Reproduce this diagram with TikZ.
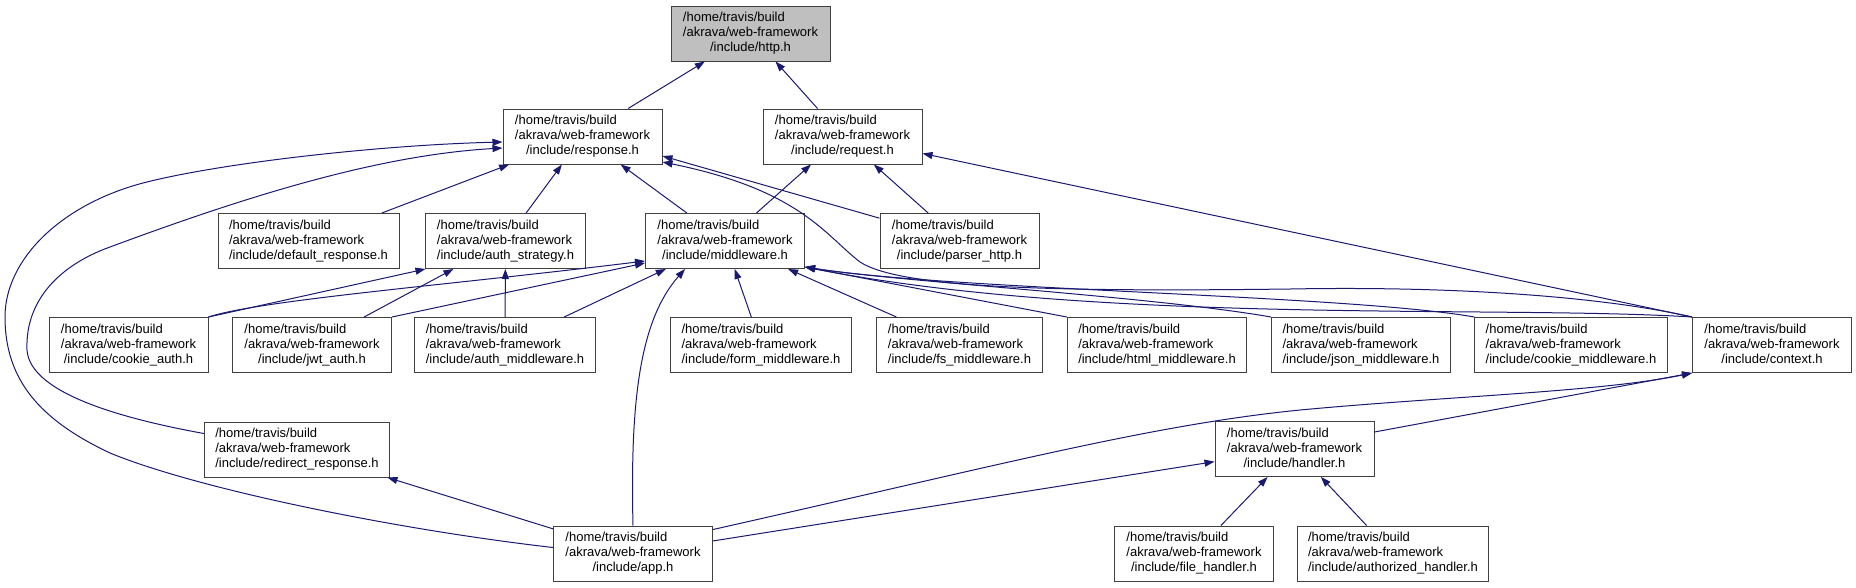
\documentclass[tikz,border=0pt]{standalone}
\usepackage{fontspec}
\setmainfont{Liberation Sans}
\usetikzlibrary{arrows.meta}
\definecolor{edgeblue}{HTML}{191970}
\definecolor{boxgray}{HTML}{404040}
\definecolor{rootfill}{HTML}{BFBFBF}
\newcommand{\incpath}[1]{\begin{tabular}{@{}l@{}}/home/travis/build\\/akrava/web-framework\\\multicolumn{1}{@{}c@{}}{/include/#1}\end{tabular}}
\tikzset{
  filebox/.style={draw=boxgray,fill=white,line width=1pt,minimum width=159pt,minimum height=55pt,inner xsep=11pt,inner ysep=0pt,font=\fontsize{13}{15}\selectfont},
  incline/.style={draw=edgeblue,line width=1pt}
}
\begin{document}
\begin{tikzpicture}[x=1pt,y=-1pt,>={Triangle[length=10pt,width=7pt]}]
\useasboundingbox (0,0) rectangle (1856,587);
\node[filebox,fill=rootfill] (http) at (750.5,33.5) {\incpath{http.h}};
\node[filebox] (response) at (582.5,136.5) {\incpath{response.h}};
\node[filebox] (request) at (842.5,136.5) {\incpath{request.h}};
\node[filebox] (defresp) at (308.5,241) {\incpath{default\_response.h}};
\node[filebox] (authstrat) at (505.5,241) {\incpath{auth\_strategy.h}};
\node[filebox] (middleware) at (725,241) {\incpath{middleware.h}};
\node[filebox] (parser) at (959.5,241) {\incpath{parser\_http.h}};
\node[filebox] (cookieauth) at (128.5,345) {\incpath{cookie\_auth.h}};
\node[filebox] (jwtauth) at (312,345) {\incpath{jwt\_auth.h}};
\node[filebox] (authmw) at (505,345) {\incpath{auth\_middleware.h}};
\node[filebox] (formmw) at (761,345) {\incpath{form\_middleware.h}};
\node[filebox] (fsmw) at (959.5,345) {\incpath{fs\_middleware.h}};
\node[filebox] (htmlmw) at (1157,345) {\incpath{html\_middleware.h}};
\node[filebox] (jsonmw) at (1361,345) {\incpath{json\_middleware.h}};
\node[filebox] (cookiemw) at (1571,345) {\incpath{cookie\_middleware.h}};
\node[filebox] (context) at (1772,345) {\incpath{context.h}};
\node[filebox] (redirect) at (297,449.5) {\incpath{redirect\_response.h}};
\node[filebox] (handler) at (1294.5,449) {\incpath{handler.h}};
\node[filebox] (app) at (633,553.5) {\incpath{app.h}};
\node[filebox] (filehandler) at (1194,553.5) {\incpath{file\_handler.h}};
\node[filebox] (authhandler) at (1393,553.5) {\incpath{authorized\_handler.h}};
\draw[->,incline] (response) -- (http);
\draw[->,incline] (request) -- (http);
\draw[->,incline] (defresp) -- (response);
\draw[->,incline] (authstrat) -- (response);
\draw[->,incline] (middleware) -- (response);
\draw[->,incline] (parser) -- ([yshift=-19.5pt]response.east);
\draw[->,incline] (middleware) -- (request);
\draw[->,incline] (parser) -- (request);
\draw[->,incline] (context.north west) -- (request);
\draw[->,incline] (cookieauth.north east) -- (authstrat.south west);
\draw[->,incline] (jwtauth) -- (authstrat);
\draw[->,incline] (authmw) -- (authstrat);
\draw[->,incline] (cookieauth.north east) .. controls (260,300) and (450,285) .. ([yshift=-20pt]middleware.west);
\draw[->,incline] (jwtauth.north east) -- ([yshift=-22pt]middleware.west);
\draw[->,incline] (authmw) -- (middleware);
\draw[->,incline] (formmw) -- (middleware);
\draw[->,incline] (fsmw) -- (middleware);
\draw[->,incline] (htmlmw.north west) -- ([yshift=2pt]middleware.south east);
\draw[->,incline] (jsonmw.north west) .. controls (1150,296) and (900,282) .. ([yshift=2pt]middleware.south east);
\draw[->,incline] (cookiemw.north west) .. controls (1350,295) and (950,290) .. ([yshift=2pt]middleware.south east);
\draw[->,incline] (context.north west) .. controls (1500,305) and (1100,325) .. ([yshift=2pt]middleware.south east);
\draw[->,incline] (context.north west) .. controls (1600,296) and (1450,286) .. (1290,289) .. controls (1050,292) and (900,288) .. (860,262) .. controls (825,235) and (800,190) .. ([yshift=-25.5pt]response.east);
\draw[->,incline] ([yshift=16pt]redirect.west) .. controls (130,420) and (30,395) .. (27,350) .. controls (25,300) and (60,265) .. (110,247) .. controls (250,195) and (380,155) .. ([yshift=-11.5pt]response.west);
\draw[->,incline] ([yshift=6pt]app.west) .. controls (400,530) and (200,490) .. (110,453) .. controls (40,420) and (5,380) .. (5,317) .. controls (5,260) and (60,205) .. (143,183) .. controls (220,163) and (380,145) .. ([yshift=-5.5pt]response.west);
\draw[->,incline] (app) -- (redirect);
\draw[->,incline] (app.north) .. controls (630,400) and (640,320) .. ([xshift=-40pt]middleware.south);
\draw[->,incline] (app) -- (handler);
\draw[->,incline] ([yshift=-4pt]app.north east) .. controls (1000,465) and (1150,425) .. (1300,410) .. controls (1450,396) and (1600,392) .. (context.south west);
\draw[->,incline] ([yshift=-11pt]handler.north east) -- (context.south west);
\draw[->,incline] (filehandler) -- (handler);
\draw[->,incline] (authhandler) -- (handler);
\end{tikzpicture}
\end{document}
